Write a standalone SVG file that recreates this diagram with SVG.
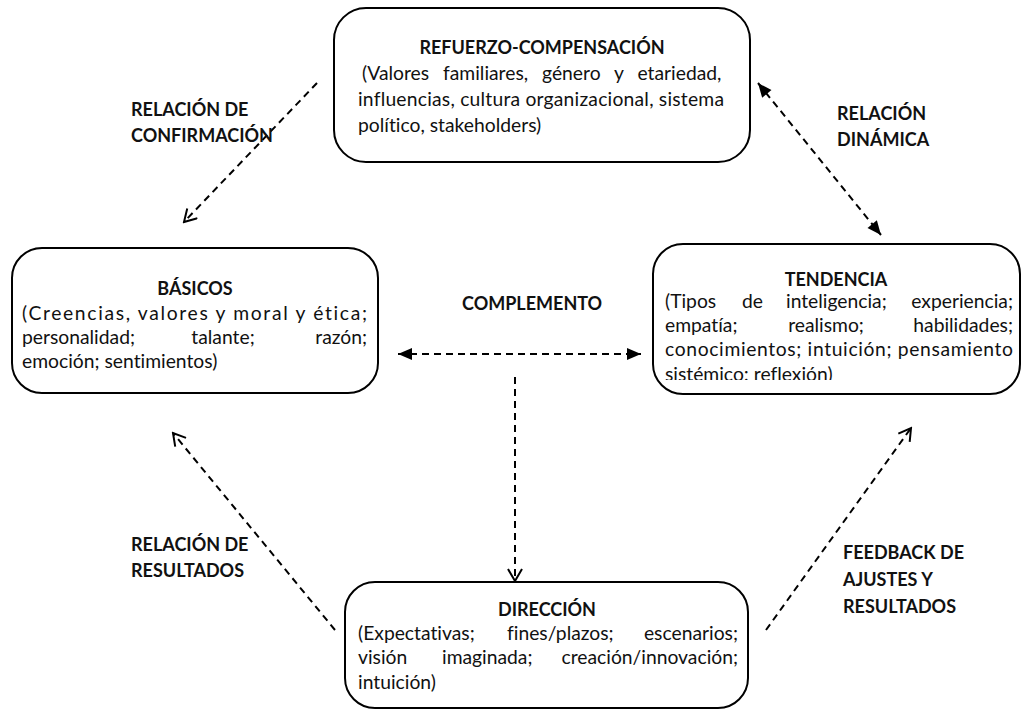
<svg xmlns="http://www.w3.org/2000/svg" width="1027" height="711" viewBox="0 0 1027 711">
<style>
.box{fill:#fff;stroke:#000;stroke-width:2}
text{font-variant-ligatures:none;font-feature-settings:"liga" 0}
.t{font-family:Lato,"Liberation Sans",Arial,sans-serif;font-size:19.3px;fill:#111}
.h{font-family:Lato,"Liberation Sans",Arial,sans-serif;font-size:18px;font-weight:bold;fill:#111}
.e{text-anchor:end}
.m{text-anchor:middle}
.c{stroke:#000;stroke-width:2;stroke-dasharray:7 5;fill:none}
</style>
<defs>
<marker id="open" markerUnits="userSpaceOnUse" markerWidth="16" markerHeight="16" viewBox="0 0 16 16" refX="14" refY="8" orient="auto-start-reverse">
<path d="M2,1 L14,8 L2,15" fill="none" stroke="#000" stroke-width="2"/>
</marker>
<marker id="fill" markerUnits="userSpaceOnUse" markerWidth="16" markerHeight="16" viewBox="0 0 16 16" refX="15" refY="8" orient="auto-start-reverse">
<path d="M1,2 L15,8 L1,14 Z" fill="#000"/>
</marker>
<clipPath id="tclip"><rect x="653" y="244" width="368" height="136"/></clipPath>
</defs>
<rect width="1027" height="711" fill="#fff"/>

<g id="connectors">
<line class="c" x1="317" y1="83" x2="184" y2="222" marker-end="url(#open)"/>
<line class="c" x1="758" y1="83" x2="881" y2="235" marker-start="url(#fill)" marker-end="url(#fill)"/>
<line class="c" x1="398" y1="354" x2="641" y2="354" marker-start="url(#fill)" marker-end="url(#fill)"/>
<line class="c" x1="515" y1="377" x2="515" y2="581" marker-end="url(#open)"/>
<line class="c" x1="335" y1="630" x2="173" y2="433" marker-end="url(#open)"/>
<line class="c" x1="766" y1="630" x2="911" y2="428" marker-end="url(#open)"/>
</g>

<g id="refuerzo">
<rect class="box" x="334" y="8" width="416" height="154" rx="32"/>
<text class="h m" x="542" y="54">REFUERZO-COMPENSACIÓN</text>
<text class="t" x="362" y="80" word-spacing="9">(Valores familiares, género y etariedad,</text>
<text class="t" x="358" y="106" textLength="366" lengthAdjust="spacing">influencias, cultura organizacional, sistema</text>
<text class="t" x="358" y="132">político, stakeholders)</text>
</g>

<g id="basicos">
<rect class="box" x="12" y="248" width="366" height="145" rx="30"/>
<text class="h m" x="195" y="295">BÁSICOS</text>
<text class="t" x="22" y="320" textLength="345" lengthAdjust="spacing">(Creencias, valores y moral y ética;</text>
<text class="t" x="22" y="344">personalidad;</text>
<text class="t m" x="223" y="344">talante;</text>
<text class="t e" x="367" y="344">razón;</text>
<text class="t" x="22" y="368">emoción; sentimientos)</text>
</g>

<g id="tendencia">
<rect class="box" x="653" y="244" width="367" height="150" rx="30"/>
<text class="h m" x="836" y="286">TENDENCIA</text>
<g clip-path="url(#tclip)">
<text class="t" y="308"><tspan x="665">(Tipos</tspan><tspan x="742">de</tspan><tspan x="786">inteligencia;</tspan></text>
<text class="t e" x="1013" y="308">experiencia;</text>
<text class="t" x="665" y="332">empatía;</text>
<text class="t m" x="826" y="332">realismo;</text>
<text class="t e" x="1013" y="332">habilidades;</text>
<text class="t" x="665" y="356" textLength="348" lengthAdjust="spacing">conocimientos; intuición; pensamiento</text>
<text class="t" x="665" y="381">sistémico; reflexión)</text>
</g>
</g>

<g id="direccion">
<rect class="box" x="345" y="582" width="403" height="126" rx="30"/>
<text class="h m" x="547" y="616">DIRECCIÓN</text>
<text class="t" y="640"><tspan x="358">(Expectativas;</tspan><tspan x="507">fines/plazos;</tspan></text>
<text class="t e" x="738" y="640">escenarios;</text>
<text class="t" y="664"><tspan x="358">visión</tspan><tspan x="442">imaginada;</tspan></text>
<text class="t e" x="738" y="664">creación/innovación;</text>
<text class="t" x="358" y="689">intuición)</text>
</g>

<g id="labels">
<text class="h" x="131" y="116">RELACIÓN DE</text>
<text class="h" x="131" y="142">CONFIRMACIÓN</text>
<text class="h" x="837" y="120">RELACIÓN</text>
<text class="h" x="837" y="146">DINÁMICA</text>
<text class="h" x="462" y="310">COMPLEMENTO</text>
<text class="h" x="131" y="551">RELACIÓN DE</text>
<text class="h" x="131" y="577">RESULTADOS</text>
<text class="h" x="843" y="559">FEEDBACK DE</text>
<text class="h" x="843" y="586">AJUSTES Y</text>
<text class="h" x="843" y="613">RESULTADOS</text>
</g>
</svg>
